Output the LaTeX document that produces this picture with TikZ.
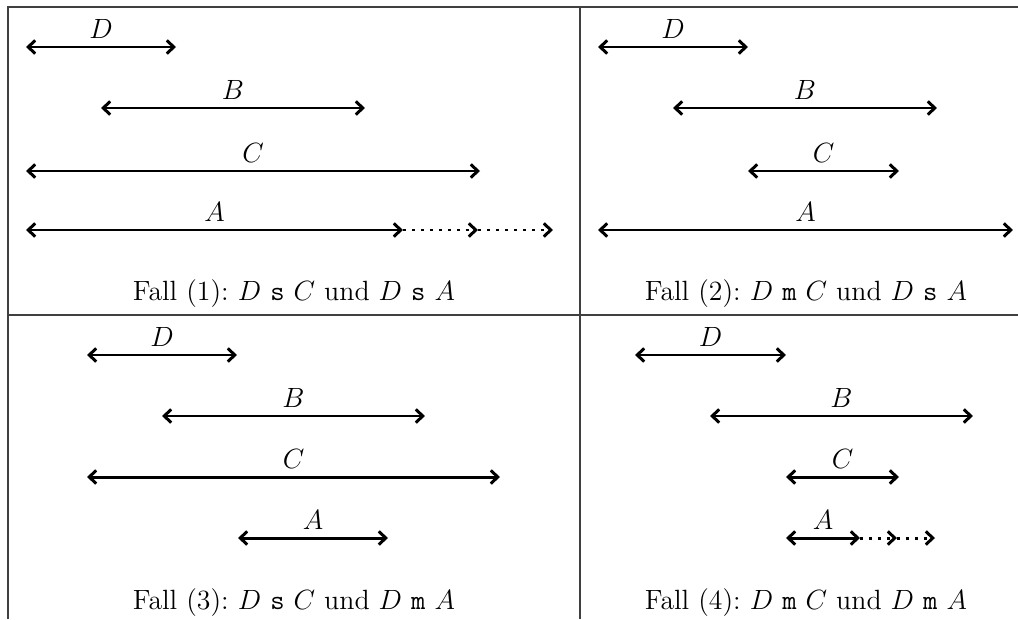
\documentclass[tikz,border=0pt]{standalone}
\usetikzlibrary{arrows.meta}
\begin{document}
\begin{tikzpicture}[
  x=0.02cm, y=-0.02cm,
  font=\fontsize{14.4}{17}\selectfont\frenchspacing,
  rule/.style={line width=0.6pt, black!75},
  span/.style={{Straight Barb[length=4pt,width=7.5pt]}-{Straight Barb[length=4pt,width=7.5pt]}, line width=1.7pt},
  ext/.style={-{Straight Barb[length=4pt,width=7.5pt]}, line width=1.7pt, dash pattern=on 1.7pt off 3.4pt},
  lbl/.style={midway, above, inner sep=3.6pt, scale=1.1, transform shape},
  caption/.style={anchor=base, scale=1.1, transform shape}
]
\useasboundingbox (0,0) rectangle (1018,619);
% table rules
\draw[rule] (8,619) -- (8,7) -- (1018,7);
\draw[rule] (580,7) -- (580,619);
\draw[rule] (8,315) -- (1018,315);

% Fall (1)
\draw[span] (26,47) -- node[lbl] (d1) {$D$} (176,47);
\draw[span] (101,108) -- node[lbl] (b1) {$B$} (365,108);
\draw[span] (26,171) -- node[lbl] (c1) {$C$} (480,171);
\draw[span] (26,230) -- node[lbl] (a1) {$A$} (403,230) coordinate (a1e);
\coordinate (a1x) at (478,230);
\coordinate (a1y) at (553,230);
\draw[ext] (a1e) -- (a1x);
\draw[ext] (a1x) -- (a1y);
\node[caption] (f1) at (294,300) {Fall (1): $D$ \texttt{s} $C$ und $D$ \texttt{s} $A$};

% Fall (2)
\draw[span] (598,47) -- node[lbl] (d2) {$D$} (748,47);
\draw[span] (673,108) -- node[lbl] (b2) {$B$} (937,108);
\draw[span] (748,171) -- node[lbl] (c2) {$C$} (899,171);
\draw[span] (598,230) -- node[lbl] (a2) {$A$} (1013,230);
\node[caption] (f2) at (806,300) {Fall (2): $D$ \texttt{m} $C$ und $D$ \texttt{s} $A$};

% Fall (3)
\draw[span] (87,355) -- node[lbl] (d3) {$D$} (237,355);
\draw[span] (162,416) -- node[lbl] (b3) {$B$} (425,416);
\draw[span] (87,477) -- node[lbl] (c3) {$C$} (500,477);
\draw[span] (238,538) -- node[lbl] (a3) {$A$} (388,538);
\node[caption] (f3) at (294,609) {Fall (3): $D$ \texttt{s} $C$ und $D$ \texttt{m} $A$};

% Fall (4)
\draw[span] (635,355) -- node[lbl] (d4) {$D$} (786,355);
\draw[span] (710,416) -- node[lbl] (b4) {$B$} (973,416);
\draw[span] (786,477) -- node[lbl] (c4) {$C$} (899,477);
\draw[span] (786,538) -- node[lbl] (a4) {$A$} (860,538) coordinate (a4e);
\coordinate (a4x) at (897,538);
\coordinate (a4y) at (935,538);
\draw[ext] (a4e) -- (a4x);
\draw[ext] (a4x) -- (a4y);
\node[caption] (f4) at (806,609) {Fall (4): $D$ \texttt{m} $C$ und $D$ \texttt{m} $A$};
\end{tikzpicture}
\end{document}
